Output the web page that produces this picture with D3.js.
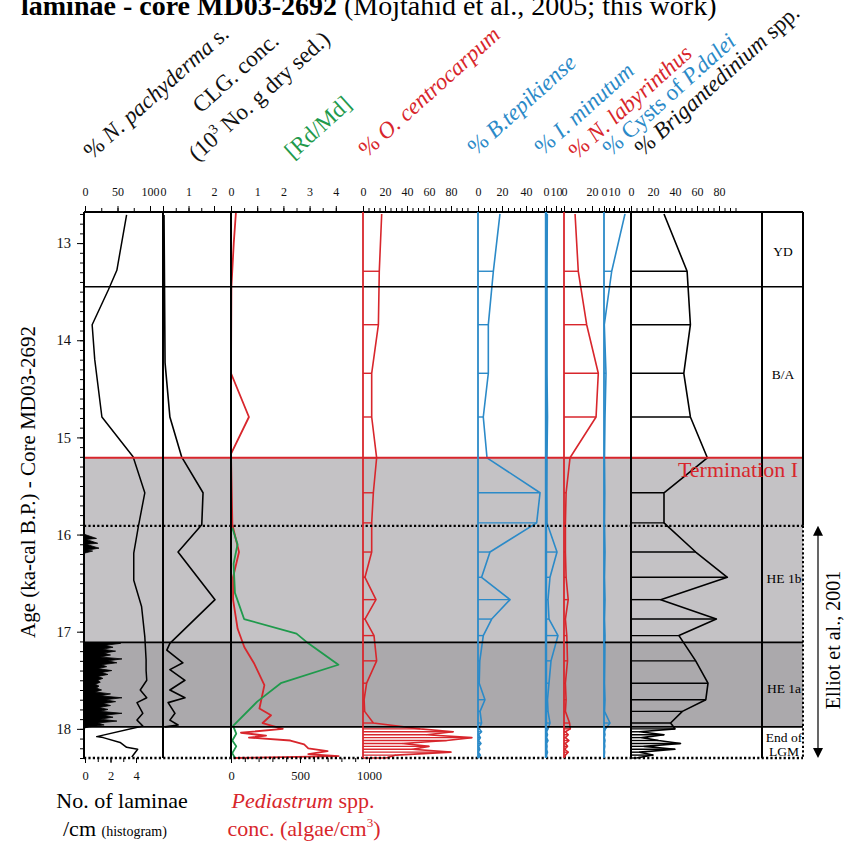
<!DOCTYPE html>
<html><head><meta charset="utf-8">
<script src="https://cdn.jsdelivr.net/npm/d3@7"></script>
<style>body{margin:0;background:#fff}svg{display:block}text{font-family:"Liberation Serif","Times New Roman",serif}</style>
</head><body><svg id="c" width="846" height="846"></svg>
<script>
// ---------------- DATA ----------------
const ageTicks = [13, 14, 15, 16, 17, 18];
const pachyTicks = [0, 50, 100], clgTicks = [0, 1, 2], rdmdTicks = [0, 1, 2, 3, 4];
const ocenTicks = [0, 20, 40, 60, 80], btepTicks = [0, 20, 40], iminTicks = [0, 10];
const nlabTicks = [0, 20], cystTicks = [0, 10], brigTicks = [0, 20, 40, 60, 80];
const lamTicks = [0, 2, 4], pediTicks = [0, 500, 1000];

// zone boundaries (ka)
const zoneTop = 12.68, ydBase = 13.45, termI = 15.21, he1bTop = 15.91, he1aTop = 17.11, lgmTop = 17.98, coreBase = 18.30;
const zoneNames = ["YD", "B/A", "HE 1b", "HE 1a", "End of", "LGM"];
const zoneAges = [13.08, 14.35, 16.45, 17.58, 18.08, 18.23];

// % N. pachyderma s. [age, %]
const pachy = [[12.71,64],[13.28,49],[13.48,36],[13.84,11],[14.20,15],[14.79,26],[15.20,74],[15.57,92],[15.92,82],[16.19,75],[16.47,75],[16.74,87],[17.05,92],[17.29,94],[17.40,94],[17.50,95],[17.60,85],[17.68,95],[17.73,80],[17.84,89],[17.91,80],[17.97,89],[18.08,18],[18.09,28],[18.14,54],[18.19,64],[18.21,81],[18.29,72]];
// CLG conc. (10^3 No./g)
const clg = [[12.71,0.04],[14.23,0.08],[14.79,0.27],[15.20,0.73],[15.57,1.57],[15.90,1.52],[16.18,0.59],[16.67,2.04],[17.12,0.27],[17.19,0.15],[17.32,0.78],[17.39,0.27],[17.50,0.86],[17.60,0.27],[17.68,0.86],[17.73,0.20],[17.84,0.47],[17.91,0.27],[17.96,0.59],[17.98,0.08]];
// laminae per cm
const lamA = [[16.00,0],[16.04,0.9],[16.05,0.1],[16.09,1.0],[16.10,0.1],[16.14,1.1],[16.16,0.2],[16.17,0.6],[16.19,0]];
const lamB = [[17.11,0],[17.12,2.8],[17.14,1.6],[17.16,2.2],[17.18,1.4],[17.20,2.4],[17.22,1.5],[17.24,2.0],[17.26,1.2],[17.28,2.9],[17.30,1.8],[17.32,2.5],[17.34,1.3],[17.36,1.7],[17.38,1.0],[17.40,2.1],[17.42,1.3],[17.44,1.8],[17.46,1.0],[17.48,1.4],[17.50,1.0],[17.52,1.2],[17.54,0.8],[17.56,1.1],[17.58,0.9],[17.60,1.3],[17.62,0.8],[17.64,2.0],[17.66,1.2],[17.68,2.9],[17.70,1.6],[17.72,2.4],[17.74,1.4],[17.76,2.0],[17.78,1.1],[17.80,1.8],[17.82,1.2],[17.84,2.9],[17.86,1.5],[17.88,2.2],[17.90,1.2],[17.92,2.5],[17.94,1.0],[17.96,1.5],[17.98,0.3],[17.99,0]];
// [Rd/Md]
const rdmd = [[15.93,0.05],[16.10,0.25],[16.30,0.10],[16.60,0.15],[16.87,0.50],[17.02,2.5],[17.12,2.95],[17.34,4.1],[17.53,1.9],[17.72,1.0],[17.97,0.08],[18.05,0.2],[18.12,0.05],[18.18,0.2],[18.25,0.05],[18.30,0.15]];
// Pediastrum conc.
const pedi = [[12.68,36],[13.00,20],[13.45,3],[14.34,0],[14.79,130],[15.17,0],[15.90,10],[16.18,58],[16.44,15],[16.67,15],[16.97,48],[17.16,97],[17.33,169],[17.55,242],[17.79,206],[17.86,290],[17.94,229],[18.00,375],[18.04,72],[18.07,254],[18.09,130],[18.12,430],[18.16,530],[18.20,560],[18.23,700],[18.26,560],[18.28,780],[18.30,20]];
// dinocyst samples
const dinoAges = [12.70,13.29,13.84,14.34,14.79,15.21,15.57,15.88,16.18,16.44,16.67,16.87,17.04,17.30,17.53,17.70,17.82,17.94,18.00,18.03,18.06,18.09,18.12,18.15,18.18,18.21,18.24,18.27,18.30];
const ocen = [17,14.8,14,7.9,7.9,12.4,9.4,7.9,7.9,1.8,11.8,1.8,10,12.4,3.3,1,1.5,9.4,52,82,58,99,76,36,60,45,80,30,21];
const btep = [18.3,12.8,8.6,8.6,4.4,7.5,51.7,48.9,10,3,26.7,11.4,4.4,1.5,1,5.8,1.7,3,1,3,0.5,2,0.5,2.5,0.5,1.5,0.3,2,0.5];
const imin = [1.3,1,1,1,1.5,1,0.8,1,11,4,2,3,12,5,3,1.5,2,4,2,0.5,1.5,0.5,2,0.5,1,0.5,1.5,0.5,0.3];
const nlab = [7.9,10.2,16.2,24.5,22.9,4.3,1.5,1,1,1.5,3,1,2,2.5,1,1.5,1,4,4.5,1,3,1,3.5,1,2.5,0.5,3,1,0.5];
const cyst = [21,7.7,0.3,2,1,0.5,0.8,0.5,1,0.5,1,0.5,1,0.8,0.5,1,0.5,6,1.5,0.5,1,0.3,1,0.5,0.8,0.3,0.6,0.3,0.2];
const brig = [30,51,54,48,54,69.4,30,30,58.8,87.6,27,77.6,43.6,58.8,70,68,46.7,36,40,8,30,10,25,45,12,40,8,20,5];

// ---------------- DRAW ----------------
const RED = "#d8262c", BLUE = "#2b8ac8", GREEN = "#1f9a4c", FONT = '"Liberation Serif","Times New Roman",serif';
const svg = d3.select("#c");
const L = 84, R = 803, T = 212, B = 758, LABX = 762;
const y = d3.scaleLinear().domain([zoneTop, coreBase]).range([T, B]);
const sc = (x0, k, max) => d3.scaleLinear().domain([0, max]).range([x0, x0 + k * max]);
const xs = {
  pachy: sc(85, 0.65, 100), lam: sc(85, 12.75, 4), clg: sc(163, 25.5, 2), rdmd: sc(231, 26.2, 4),
  pedi: sc(231, 0.138, 1000), ocen: sc(363, 1.1, 100), btep: sc(478, 1.2, 50), imin: sc(546, 1.0, 15),
  nlab: sc(564, 1.4, 25), cyst: sc(604, 1.0, 25), brig: sc(631, 1.1, 100)
};
const fmt = d3.format("d");

// bands
svg.append("rect").attr("x", L).attr("width", R - L).attr("y", y(termI)).attr("height", y(he1aTop) - y(termI)).attr("fill", "#c4c2c5");
svg.append("rect").attr("x", L).attr("width", R - L).attr("y", y(he1aTop)).attr("height", y(lgmTop) - y(he1aTop)).attr("fill", "#aba9ac");

const line = (xsc) => d3.line().x(d => xsc(d[1])).y(d => y(d[0]));
function curve(data, xsc, color, w) {
  svg.append("path").attr("d", line(xsc)(data)).attr("fill", "none").attr("stroke", color).attr("stroke-width", w || 1.6).attr("stroke-linejoin", "round");
}
// laminae histogram
const lamArea = d3.area().y(d => y(d[0])).x0(xs.lam(0)).x1(d => xs.lam(d[1]));
[lamA, lamB].forEach(d => svg.append("path").attr("d", lamArea(d)).attr("fill", "#000").attr("stroke", "#000").attr("stroke-width", 0.8));
curve(pachy, xs.pachy, "#000", 1.5);
curve(clg, xs.clg, "#000", 1.6);
curve(pedi, xs.pedi, RED, 1.8);
curve(rdmd, xs.rdmd, GREEN, 1.8);

function dino(vals, xsc, color) {
  const pts = dinoAges.map((a, i) => [a, vals[i]]);
  const g = svg.append("g");
  g.selectAll("line").data(pts.slice(1)).join("line")
    .attr("x1", xsc(0)).attr("x2", d => xsc(d[1])).attr("y1", d => y(d[0])).attr("y2", d => y(d[0]))
    .attr("stroke", color).attr("stroke-width", 1.4);
  g.append("path").attr("d", line(xsc)(pts)).attr("fill", "none").attr("stroke", color).attr("stroke-width", 1.6).attr("stroke-linejoin", "round");
}
dino(ocen, xs.ocen, RED);
dino(btep, xs.btep, BLUE);
dino(imin, xs.imin, BLUE);
dino(nlab, xs.nlab, RED);
dino(cyst, xs.cyst, BLUE);
dino(brig, xs.brig, "#000");

// horizontal boundaries
const hl = (age, color, w, dash) => svg.append("line").attr("x1", L).attr("x2", R).attr("y1", y(age)).attr("y2", y(age))
  .attr("stroke", color).attr("stroke-width", w).attr("stroke-dasharray", dash || null);
hl(zoneTop, "#000", 2); hl(ydBase, "#000", 1.6); hl(he1aTop, "#000", 1.6); hl(lgmTop, "#000", 1.6);
hl(termI, RED, 2); hl(he1bTop, "#000", 2.2, "2.2,2.2"); hl(coreBase, "#000", 2.4, "2.2,2.2");

// vertical lines
const vl = (x, color, w, a1, a2, dash) => svg.append("line").attr("x1", x).attr("x2", x).attr("y1", y(a1 == null ? zoneTop : a1)).attr("y2", y(a2 == null ? coreBase : a2))
  .attr("stroke", color).attr("stroke-width", w).attr("stroke-dasharray", dash || null);
vl(L, "#000", 2); vl(163, "#000", 2); vl(231, "#000", 2); vl(363, RED, 1.8); vl(478, BLUE, 1.8);
vl(546, BLUE, 2.4); vl(564, RED, 1.8); vl(604, BLUE, 1.8); vl(631, "#000", 2); vl(LABX, "#000", 2);
vl(R, "#000", 2, zoneTop, he1bTop); vl(R, "#000", 2, he1bTop, coreBase, "2.2,2.2");

// axes
function styleAxis(g, size) {
  g.select(".domain").remove();
  g.selectAll("text").attr("font-family", FONT).attr("font-size", size).attr("fill", "#111");
  g.selectAll("line").attr("stroke", "#000");
}
function topAxis(xsc, ticks, step, max) {
  const minor = d3.range(0, max + 1e-9, step);
  svg.append("g").attr("transform", `translate(0,${T})`).call(d3.axisTop(xsc).tickValues(minor).tickSize(4).tickFormat("")).call(g => styleAxis(g));
  svg.append("g").attr("transform", `translate(0,${T})`).call(d3.axisTop(xsc).tickValues(ticks).tickSize(6).tickPadding(10).tickFormat(fmt)).call(g => styleAxis(g, 12));
}
topAxis(xs.pachy, pachyTicks, 25, 100);
topAxis(xs.clg, clgTicks, 0.5, 2);
topAxis(xs.rdmd, rdmdTicks, 0.5, 4);
topAxis(xs.ocen, ocenTicks, 5, 95);
topAxis(xs.btep, btepTicks, 5, 55);
topAxis(xs.imin, iminTicks, 5, 15);
topAxis(xs.nlab, nlabTicks, 5, 35);
topAxis(xs.cyst, cystTicks, 5, 25);
topAxis(xs.brig, brigTicks, 5, 95);

function botAxis(xsc, ticks, step, max) {
  svg.append("g").attr("transform", `translate(0,${B})`).call(d3.axisBottom(xsc).tickValues(d3.range(0, max + 1e-9, step)).tickSize(4).tickFormat("")).call(g => styleAxis(g));
  svg.append("g").attr("transform", `translate(0,${B})`).call(d3.axisBottom(xsc).tickValues(ticks).tickSize(5).tickPadding(8).tickFormat(fmt)).call(g => styleAxis(g, 12.5));
}
botAxis(xs.lam, lamTicks, 1, 4);
botAxis(xs.pedi, pediTicks, 100, 1000);

svg.append("g").attr("transform", `translate(${L},0)`).call(d3.axisLeft(y).tickValues(d3.range(12.7, 18.31, 0.1)).tickSize(4).tickFormat("")).call(g => styleAxis(g));
svg.append("g").attr("transform", `translate(${L},0)`).call(d3.axisLeft(y).tickValues(ageTicks).tickSize(7).tickPadding(6).tickFormat(fmt)).call(g => styleAxis(g, 14.5));

// header labels
const heads = [
  {x: 92, y: 160, c: "#111", parts: [["% ", 0], ["N. pachyderma", 1], [" s.", 0]]},
  {x: 201, y: 114, c: "#111", parts: [["CLG. conc.", 0]]},
  {x: 197, y: 162, c: "#111", parts: [["(10", 0], ["3", 2], [" No. g dry sed.)", 3]]},
  {x: 293, y: 160, c: GREEN, parts: [["[Rd/Md]", 0]]},
  {x: 367, y: 158, c: RED, parts: [["% ", 0], ["O. centrocarpum", 1]]},
  {x: 476, y: 156, c: BLUE, parts: [["% ", 0], ["B.tepikiense", 1]]},
  {x: 543, y: 156, c: BLUE, parts: [["% ", 0], ["I. minutum", 1]]},
  {x: 577, y: 160, c: RED, parts: [["% ", 0], ["N. labyrinthus", 1]]},
  {x: 611, y: 157, c: BLUE, parts: [["% Cysts of ", 0], ["P.dalei", 1]]},
  {x: 643, y: 157, c: "#111", parts: [["% ", 0], ["Brigantedinium", 1], [" spp.", 0]]}
];
heads.forEach(h => {
  const t = svg.append("text").attr("transform", `translate(${h.x},${h.y}) rotate(-42)`).attr("font-size", 23).attr("fill", h.c);
  h.parts.forEach(p => {
    const s = t.append("tspan").text(p[0]);
    if (p[1] === 1) s.attr("font-style", "italic");
    if (p[1] === 2) s.attr("font-size", 14).attr("dy", -9);
    if (p[1] === 3) s.attr("dy", 9);
  });
});

// title (cut at top)
const title = svg.append("text").attr("x", 21).attr("y", 15).attr("font-size", 28).attr("fill", "#000");
title.append("tspan").attr("font-weight", "bold").text("laminae - core MD03-2692");
title.append("tspan").text(" (Mojtahid et al., 2005; this work)");

// y label
svg.append("text").attr("transform", "translate(35,482) rotate(-90)").attr("text-anchor", "middle").attr("font-size", 21).text("Age (ka-cal B.P.) - Core MD03-2692");

// zone labels
const zoneX = [783, 783, 784, 784, 784, 784];
zoneNames.forEach((n, i) => svg.append("text").attr("x", zoneX[i]).attr("y", y(zoneAges[i]) + 5).attr("text-anchor", "middle").attr("font-size", 13.5).text(n));
svg.append("text").attr("x", 798).attr("y", y(termI) + 19).attr("text-anchor", "end").attr("font-size", 22).attr("fill", RED).text("Termination I");

// Elliot annotation
const ax = 818;
svg.append("line").attr("x1", ax).attr("x2", ax).attr("y1", y(he1bTop) + 6).attr("y2", y(coreBase) - 6).attr("stroke", "#000").attr("stroke-width", 1.2);
svg.append("path").attr("d", `M${ax},${y(he1bTop)} l-5,10 h10 z M${ax},${y(coreBase)} l-5,-10 h10 z`).attr("fill", "#000");
svg.append("text").attr("transform", "translate(840,640) rotate(-90)").attr("text-anchor", "middle").attr("font-size", 20).text("Elliot et al., 2001");

// bottom labels
svg.append("text").attr("x", 122).attr("y", 808).attr("text-anchor", "middle").attr("font-size", 22).text("No. of laminae");
const cm = svg.append("text").attr("x", 63).attr("y", 836).attr("font-size", 22);
cm.append("tspan").text("/cm ");
cm.append("tspan").attr("font-size", 14).text("(histogram)");
const pd = svg.append("text").attr("x", 303).attr("y", 808).attr("text-anchor", "middle").attr("font-size", 22).attr("fill", RED);
pd.append("tspan").attr("font-style", "italic").text("Pediastrum");
pd.append("tspan").text(" spp.");
const pc = svg.append("text").attr("x", 304).attr("y", 836).attr("text-anchor", "middle").attr("font-size", 22).attr("fill", RED);
pc.append("tspan").text("conc. (algae/cm");
pc.append("tspan").attr("font-size", 13).attr("dy", -9).text("3");
pc.append("tspan").attr("dy", 9).text(")");
</script></body></html>
